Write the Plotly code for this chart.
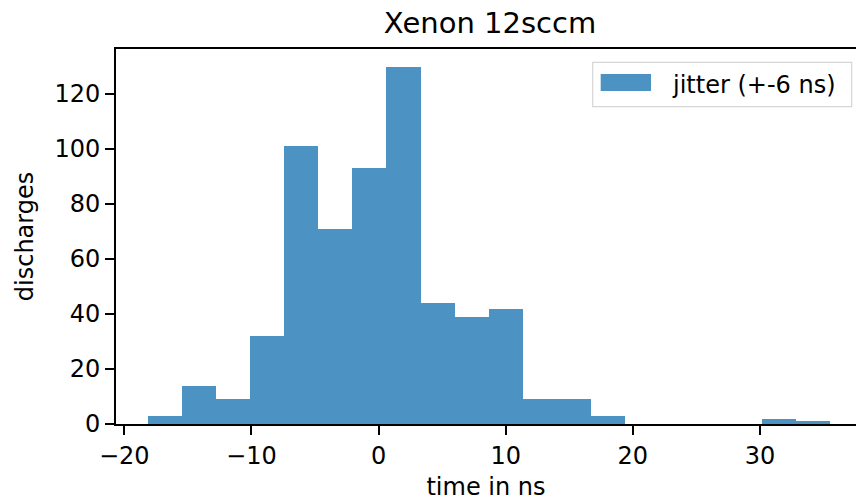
import plotly.graph_objects as go

# ---- data ----
bin_edges = [-18.17, -15.49, -12.80, -10.12, -7.44, -4.75, -2.07, 0.61, 3.30, 5.98,
             8.66, 11.35, 14.03, 16.71, 19.39, 22.08, 24.76, 27.44, 30.13, 32.81, 35.49]
counts = [3, 14, 9, 32, 101, 71, 93, 130, 44, 39, 42, 9, 9, 3, 0, 0, 0, 0, 2, 1]
x_ticks = [-20, -10, 0, 10, 20, 30]
y_ticks = [0, 20, 40, 60, 80, 100, 120]
series_name = "jitter (+-6 ns)"
title_text = "Xenon 12sccm"
x_label = "time in ns"
y_label = "discharges"

# ---- layout geometry ----
W, H = 856, 501
L, R, T, B = 116, 0, 49, 77
PW, PH = W - L - R, H - T - B
BAR_COLOR = "#4c92c3"
FONT = "DejaVu Sans"

centers = [(a + b) / 2 for a, b in zip(bin_edges[:-1], bin_edges[1:])]
widths = [b - a for a, b in zip(bin_edges[:-1], bin_edges[1:])]

fig = go.Figure()
fig.add_trace(go.Bar(x=centers, y=counts, width=widths, name=series_name,
                     marker=dict(color=BAR_COLOR, line=dict(width=0)),
                     showlegend=False))


def px_x(p):
    return (p - L) / PW


def px_y(p):
    return (H - B - p) / PH


# manual matplotlib-style legend
fig.add_shape(type="rect", xref="paper", yref="paper",
              x0=px_x(592.7), x1=px_x(851.7), y0=px_y(106.7), y1=px_y(62.3),
              line=dict(color="#d6d6d6", width=1.2), fillcolor="white")
fig.add_shape(type="rect", xref="paper", yref="paper",
              x0=px_x(600.7), x1=px_x(651), y0=px_y(91), y1=px_y(74),
              line=dict(width=0), fillcolor=BAR_COLOR)
fig.add_annotation(xref="paper", yref="paper", x=px_x(670), y=px_y(84.5),
                   text=series_name, showarrow=False, xanchor="left", yanchor="middle",
                   font=dict(family=FONT, size=24, color="black"))

axis_common = dict(showgrid=False, zeroline=False, showline=True, linecolor="black",
                   linewidth=1.6, ticks="outside", ticklen=9, tickwidth=1.6,
                   tickcolor="black", tickfont=dict(family=FONT, size=24, color="black"))

fig.update_layout(
    width=W, height=H,
    margin=dict(l=L, r=R, t=T, b=B, pad=0),
    paper_bgcolor="white", plot_bgcolor="white",
    bargap=0,
    title=dict(text=title_text, x=(490 - L) / PW * PW / W + L / W, xanchor="center",
               y=1 - 23 / H, yanchor="middle", yref="container",
               font=dict(family=FONT, size=29, color="black")),
    xaxis=dict(range=[-20.65, 37.55], tickvals=x_ticks, mirror=True,
               title=dict(text=x_label, font=dict(family=FONT, size=24, color="black"),
                          standoff=10),
               **axis_common),
    yaxis=dict(range=[0, 136.4], tickvals=y_ticks, mirror=False,
               title=dict(text=y_label, font=dict(family=FONT, size=24, color="black"),
                          standoff=14),
               **axis_common),
)

fig.write_html("out.html")
